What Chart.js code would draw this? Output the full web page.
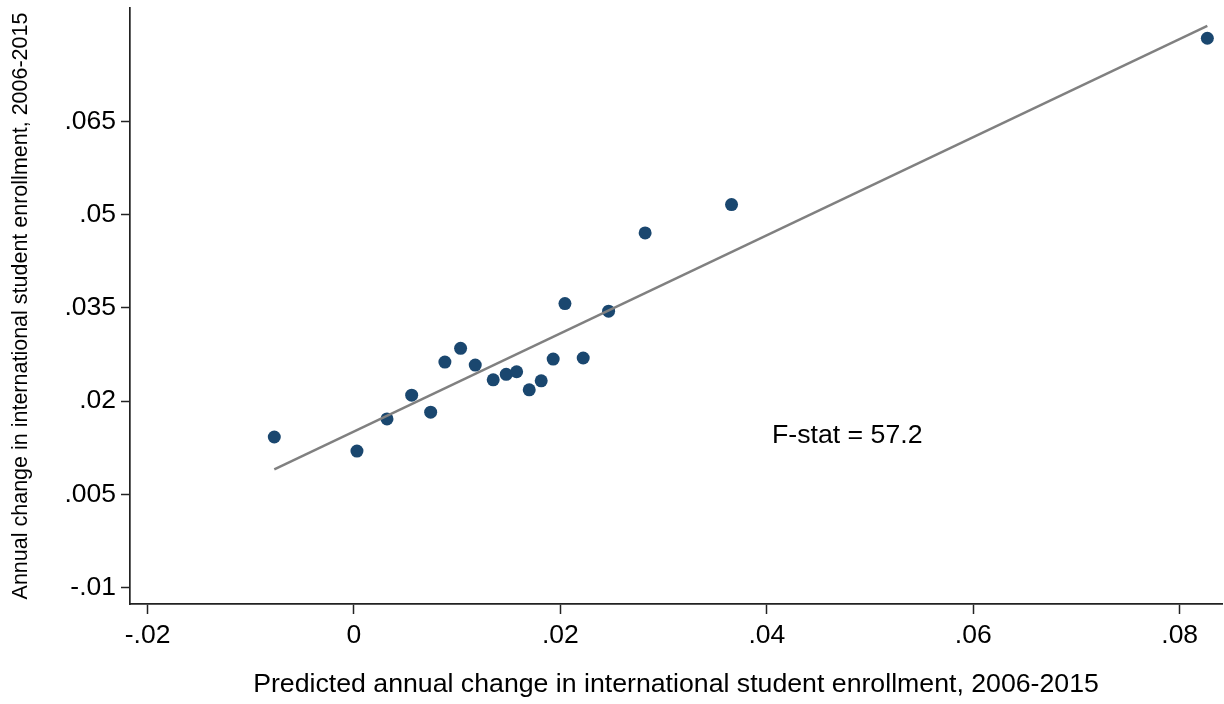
<!DOCTYPE html>
<html>
<head>
<meta charset="utf-8">
<script src="https://cdn.jsdelivr.net/npm/chart.js@4.4.1/dist/chart.umd.min.js"></script>
<style>
  html, body { margin: 0; padding: 0; background: #fff; }
  #wrap { width: 1224px; height: 704px; }
</style>
</head>
<body>
<div id="wrap"><canvas id="scatterCanvas" width="1224" height="704"></canvas></div>
<script>
let predicted = [-0.00772, 0.00029, 0.0032, 0.00559, 0.00743, 0.00881, 0.01033, 0.01175, 0.01349, 0.01475,
                 0.01576, 0.01698, 0.01814, 0.0193, 0.02044, 0.02221, 0.02467, 0.02821, 0.03658, 0.08268];
let actual = [0.01424, 0.01198, 0.01715, 0.02097, 0.01823, 0.02629, 0.0285, 0.02581, 0.02344, 0.02431,
              0.02473, 0.02182, 0.02327, 0.02677, 0.03569, 0.02694, 0.03447, 0.04705, 0.05161, 0.07834];

// fitted line end points
let fitX = [-0.00772, 0.08268];
let fitY = [0.00902, 0.08034];

let xTicks = [-0.02, 0, 0.02, 0.04, 0.06, 0.08];
let xTickLabels = ['-.02', '0', '.02', '.04', '.06', '.08'];
let yTicks = [-0.01, 0.005, 0.02, 0.035, 0.05, 0.065];
let yTickLabels = ['-.01', '.005', '.02', '.035', '.05', '.065'];

let fStatText = 'F-stat = 57.2';
let fStatAt = { x: 0.0405, y: 0.01325 };

Chart.defaults.font.family = "'Liberation Sans', Arial, Helvetica, sans-serif";
Chart.defaults.color = '#000';

let points = predicted.map(function (v, i) { return { x: v, y: actual[i] }; });
let fitLine = fitX.map(function (v, i) { return { x: v, y: fitY[i] }; });

let fStatPlugin = {
    id: 'fStat',
    afterDatasetsDraw: function (chart) {
        let ctx = chart.ctx;
        let px = chart.scales.x.getPixelForValue(fStatAt.x);
        let py = chart.scales.y.getPixelForValue(fStatAt.y);
        ctx.save();
        ctx.font = "26.7px 'Liberation Sans', Arial, sans-serif";
        ctx.fillStyle = '#000';
        ctx.textAlign = 'left';
        ctx.textBaseline = 'alphabetic';
        ctx.fillText(fStatText, px, py);
        ctx.restore();
    }
};

let axisColor = '#222';

new Chart(document.getElementById('scatterCanvas').getContext('2d'), {
    type: 'scatter',
    data: {
        datasets: [{
            type: 'line',
            data: fitLine,
            borderColor: '#808080',
            borderWidth: 2.5,
            pointRadius: 0,
            fill: false
        }, {
            data: points,
            backgroundColor: '#1a476f',
            borderColor: '#1a476f',
            borderWidth: 0,
            pointRadius: 6.5,
            pointHoverRadius: 6.5
        }]
    },
    plugins: [fStatPlugin],
    options: {
        responsive: false,
        animation: false,
        events: [],
        layout: { autoPadding: false, padding: { top: 8, right: 2, left: 0, bottom: 0 } },
        plugins: {
            legend: { display: false },
            tooltip: { enabled: false }
        },
        scales: {
            x: {
                type: 'linear',
                min: -0.0217,
                max: 0.0841,
                afterBuildTicks: function (scale) {
                    scale.ticks = xTicks.map(function (v) { return { value: v }; });
                },
                afterFit: function (scale) {
                    scale.height = 100;
                    scale.paddingLeft = 0;
                    scale.paddingRight = 0;
                },
                grid: { drawOnChartArea: false, drawTicks: true, tickLength: 10, tickColor: axisColor, tickWidth: 1.5 },
                border: { display: true, color: axisColor, width: 1.7 },
                ticks: {
                    padding: 6,
                    maxRotation: 0,
                    font: { size: 26.5 },
                    callback: function (v) { return xTickLabels[xTicks.indexOf(v)]; }
                },
                title: {
                    display: true,
                    text: 'Predicted annual change in international student enrollment, 2006-2015',
                    font: { size: 26.7 },
                    padding: { top: 0, bottom: 3 }
                }
            },
            y: {
                type: 'linear',
                min: -0.0126,
                max: 0.0832,
                afterBuildTicks: function (scale) {
                    scale.ticks = yTicks.map(function (v) { return { value: v }; });
                },
                afterFit: function (scale) {
                    scale.width = 130;
                    scale.paddingTop = 0;
                    scale.paddingBottom = 0;
                },
                grid: { drawOnChartArea: false, drawTicks: true, tickLength: 9, tickColor: axisColor, tickWidth: 1.5 },
                border: { display: true, color: axisColor, width: 1.7 },
                ticks: {
                    padding: 5,
                    font: { size: 26.5 },
                    callback: function (v) { return yTickLabels[yTicks.indexOf(v)]; }
                },
                title: {
                    display: true,
                    text: 'Annual change in international student enrollment, 2006-2015',
                    font: { size: 21.5 },
                    padding: { top: 8, bottom: 0 }
                }
            }
        }
    }
});
</script>
</body>
</html>
